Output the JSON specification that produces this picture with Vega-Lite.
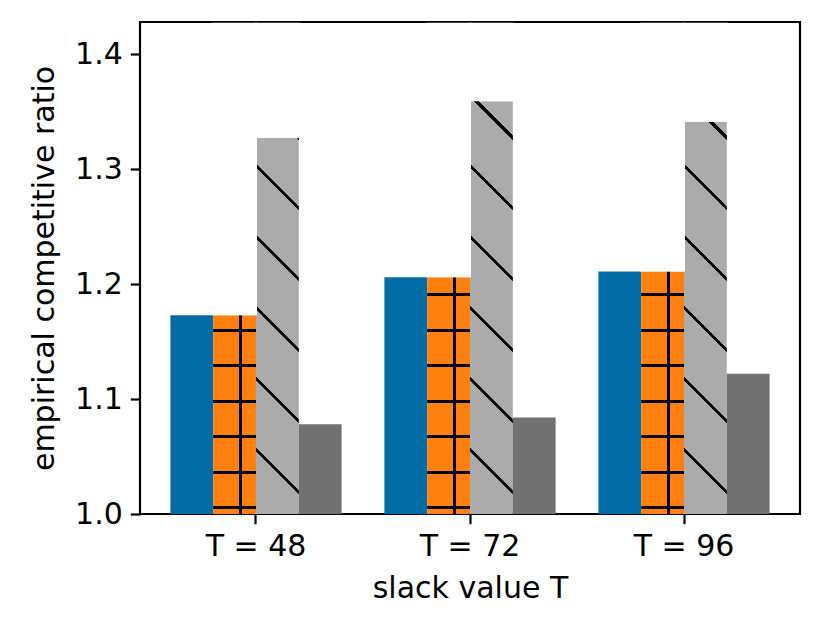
{
  "$schema": "https://vega.github.io/schema/vega-lite/v6.json",
  "width": 660,
  "height": 492,
  "autosize": "none",
  "padding": {"left": 140, "top": 22, "right": 29, "bottom": 114},
  "background": "white",
  "data": {
    "values": [
      {"T": "T = 48", "method": "m1", "value": 1.173},
      {"T": "T = 48", "method": "m2", "value": 1.173},
      {"T": "T = 48", "method": "m3", "value": 1.327},
      {"T": "T = 48", "method": "m4", "value": 1.078},
      {"T": "T = 72", "method": "m1", "value": 1.206},
      {"T": "T = 72", "method": "m2", "value": 1.206},
      {"T": "T = 72", "method": "m3", "value": 1.359},
      {"T": "T = 72", "method": "m4", "value": 1.084},
      {"T": "T = 96", "method": "m1", "value": 1.211},
      {"T": "T = 96", "method": "m2", "value": 1.211},
      {"T": "T = 96", "method": "m3", "value": 1.341},
      {"T": "T = 96", "method": "m4", "value": 1.122}
    ]
  },
  "encoding": {
    "x": {
      "field": "T",
      "type": "nominal",
      "sort": null,
      "scale": {"paddingInner": 0.2, "paddingOuter": 0.142},
      "axis": {"labelAngle": 0, "title": "slack value T"}
    },
    "xOffset": {
      "field": "method",
      "type": "nominal",
      "scale": {"paddingInner": 0, "paddingOuter": 0}
    },
    "y": {
      "field": "value",
      "type": "quantitative",
      "scale": {"domain": [1.0, 1.428], "zero": false, "nice": false},
      "axis": {
        "values": [1.0, 1.1, 1.2, 1.3, 1.4],
        "format": ".1f",
        "title": "empirical competitive ratio"
      }
    }
  },
  "layer": [
    {
      "mark": {"type": "bar"},
      "encoding": {
        "y2": {"datum": 1.0},
        "color": {
          "field": "method",
          "type": "nominal",
          "scale": {"range": ["#006BA4", "#FF800E", "#ABABAB", "#717171"]},
          "legend": null
        }
      }
    },
    {
      "transform": [{"filter": "datum.method === 'm2'"}],
      "mark": {
        "type": "bar",
        "fill": {
          "gradient": "linear", "x1": 0, "y1": 0, "x2": 1, "y2": 0,
          "stops": [
            {"offset": 0, "color": "rgba(0,0,0,0)"},
            {"offset": 0.595, "color": "rgba(0,0,0,0)"},
            {"offset": 0.595, "color": "#000000"},
            {"offset": 0.67, "color": "#000000"},
            {"offset": 0.67, "color": "rgba(0,0,0,0)"},
            {"offset": 1, "color": "rgba(0,0,0,0)"}
          ]
        }
      },
      "encoding": {"y2": {"datum": 1.0}}
    },
    {
      "transform": [{"filter": "datum.method === 'm2'"}],
      "mark": {
        "type": "bar",
        "fill": {
          "gradient": "linear", "x1": 0, "y1": 1, "x2": 0, "y2": 0,
          "stops": [
            {"offset": 0, "color": "rgba(0,0,0,0)"},
            {"offset": 0.0098, "color": "rgba(0,0,0,0)"}, {"offset": 0.0098, "color": "#000000"}, {"offset": 0.0164, "color": "#000000"}, {"offset": 0.0164, "color": "rgba(0,0,0,0)"},
            {"offset": 0.0821, "color": "rgba(0,0,0,0)"}, {"offset": 0.0821, "color": "#000000"}, {"offset": 0.0887, "color": "#000000"}, {"offset": 0.0887, "color": "rgba(0,0,0,0)"},
            {"offset": 0.1545, "color": "rgba(0,0,0,0)"}, {"offset": 0.1545, "color": "#000000"}, {"offset": 0.1611, "color": "#000000"}, {"offset": 0.1611, "color": "rgba(0,0,0,0)"},
            {"offset": 0.2269, "color": "rgba(0,0,0,0)"}, {"offset": 0.2269, "color": "#000000"}, {"offset": 0.2335, "color": "#000000"}, {"offset": 0.2335, "color": "rgba(0,0,0,0)"},
            {"offset": 0.2993, "color": "rgba(0,0,0,0)"}, {"offset": 0.2993, "color": "#000000"}, {"offset": 0.3059, "color": "#000000"}, {"offset": 0.3059, "color": "rgba(0,0,0,0)"},
            {"offset": 0.3716, "color": "rgba(0,0,0,0)"}, {"offset": 0.3716, "color": "#000000"}, {"offset": 0.3782, "color": "#000000"}, {"offset": 0.3782, "color": "rgba(0,0,0,0)"},
            {"offset": 0.4440, "color": "rgba(0,0,0,0)"}, {"offset": 0.4440, "color": "#000000"}, {"offset": 0.4506, "color": "#000000"}, {"offset": 0.4506, "color": "rgba(0,0,0,0)"},
            {"offset": 0.5164, "color": "rgba(0,0,0,0)"}, {"offset": 0.5164, "color": "#000000"}, {"offset": 0.5230, "color": "#000000"}, {"offset": 0.5230, "color": "rgba(0,0,0,0)"},
            {"offset": 0.5887, "color": "rgba(0,0,0,0)"}, {"offset": 0.5887, "color": "#000000"}, {"offset": 0.5953, "color": "#000000"}, {"offset": 0.5953, "color": "rgba(0,0,0,0)"},
            {"offset": 0.6611, "color": "rgba(0,0,0,0)"}, {"offset": 0.6611, "color": "#000000"}, {"offset": 0.6677, "color": "#000000"}, {"offset": 0.6677, "color": "rgba(0,0,0,0)"},
            {"offset": 0.7335, "color": "rgba(0,0,0,0)"}, {"offset": 0.7335, "color": "#000000"}, {"offset": 0.7401, "color": "#000000"}, {"offset": 0.7401, "color": "rgba(0,0,0,0)"},
            {"offset": 0.8059, "color": "rgba(0,0,0,0)"}, {"offset": 0.8059, "color": "#000000"}, {"offset": 0.8125, "color": "#000000"}, {"offset": 0.8125, "color": "rgba(0,0,0,0)"},
            {"offset": 0.8783, "color": "rgba(0,0,0,0)"}, {"offset": 0.8783, "color": "#000000"}, {"offset": 0.8849, "color": "#000000"}, {"offset": 0.8849, "color": "rgba(0,0,0,0)"},
            {"offset": 0.9506, "color": "rgba(0,0,0,0)"}, {"offset": 0.9506, "color": "#000000"}, {"offset": 0.9572, "color": "#000000"}, {"offset": 0.9572, "color": "rgba(0,0,0,0)"},
            {"offset": 1, "color": "rgba(0,0,0,0)"}
          ]
        }
      },
      "encoding": {"y": {"datum": 1.4265}, "y2": {"datum": 1.0}}
    },
    {
      "transform": [{"filter": "datum.method === 'm3'"}],
      "mark": {
        "type": "bar",
        "fill": {
          "gradient": "linear", "x1": 0, "y1": 1, "x2": 0.09416, "y2": -0.07905,
          "stops": [
            {"offset": 0, "color": "rgba(0,0,0,0)"},
            {"offset": 0.1166, "color": "rgba(0,0,0,0)"}, {"offset": 0.1166, "color": "#000000"}, {"offset": 0.1250, "color": "#000000"}, {"offset": 0.1250, "color": "rgba(0,0,0,0)"},
            {"offset": 0.2497, "color": "rgba(0,0,0,0)"}, {"offset": 0.2497, "color": "#000000"}, {"offset": 0.2581, "color": "#000000"}, {"offset": 0.2581, "color": "rgba(0,0,0,0)"},
            {"offset": 0.3828, "color": "rgba(0,0,0,0)"}, {"offset": 0.3828, "color": "#000000"}, {"offset": 0.3912, "color": "#000000"}, {"offset": 0.3912, "color": "rgba(0,0,0,0)"},
            {"offset": 0.5160, "color": "rgba(0,0,0,0)"}, {"offset": 0.5160, "color": "#000000"}, {"offset": 0.5244, "color": "#000000"}, {"offset": 0.5244, "color": "rgba(0,0,0,0)"},
            {"offset": 0.6491, "color": "rgba(0,0,0,0)"}, {"offset": 0.6491, "color": "#000000"}, {"offset": 0.6575, "color": "#000000"}, {"offset": 0.6575, "color": "rgba(0,0,0,0)"},
            {"offset": 0.7822, "color": "rgba(0,0,0,0)"}, {"offset": 0.7822, "color": "#000000"}, {"offset": 0.7906, "color": "#000000"}, {"offset": 0.7906, "color": "rgba(0,0,0,0)"},
            {"offset": 0.9154, "color": "rgba(0,0,0,0)"}, {"offset": 0.9154, "color": "#000000"}, {"offset": 0.9238, "color": "#000000"}, {"offset": 0.9238, "color": "rgba(0,0,0,0)"},
            {"offset": 1, "color": "rgba(0,0,0,0)"}
          ]
        }
      },
      "encoding": {"y": {"datum": 1.4265}, "y2": {"datum": 1.0}}
    },
    {
      "transform": [{"filter": "datum.method === 'm2' || datum.method === 'm3'"}],
      "mark": {"type": "bar", "fill": "#ffffff", "stroke": "#ffffff", "strokeWidth": 2, "yOffset": -1},
      "encoding": {"y2": {"datum": 1.4265}}
    }
  ],
  "config": {
    "view": {"stroke": "#000000", "strokeWidth": 2.2},
    "axis": {
      "grid": false,
      "domain": false,
      "ticks": true,
      "tickSize": 9.7,
      "tickWidth": 2.2,
      "tickColor": "#000000",
      "labelFont": "DejaVu Sans",
      "labelFontSize": 30,
      "labelColor": "#000000",
      "labelPadding": 8,
      "titleFont": "DejaVu Sans",
      "titleFontSize": 30,
      "titleFontWeight": "normal",
      "titleColor": "#000000"
    },
    "axisX": {"titlePadding": 12},
    "axisY": {"titlePadding": 15}
  }
}
